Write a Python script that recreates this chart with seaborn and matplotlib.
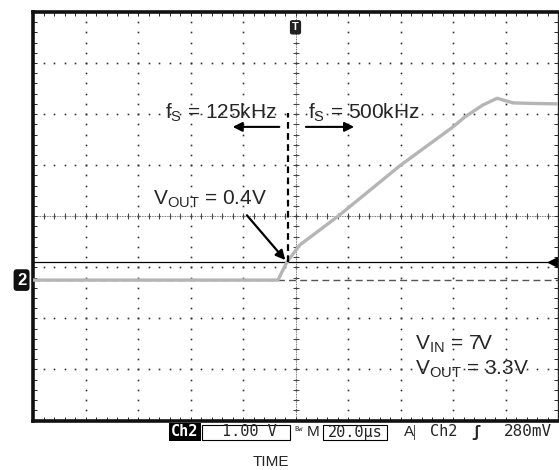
import numpy as np
import pandas as pd
import matplotlib.pyplot as plt
import seaborn as sns

tempo_us = [-100, -6.7, -3.2, 1.7, 16.2, 39.8, 60.0, 64.4, 71.4, 76.8, 82.9, 89.3, 100]
vout_v = [0.0, 0.0, 0.36, 0.69, 1.25, 2.24, 3.0, 3.19, 3.43, 3.56, 3.47, 3.46, 3.45]

nivel_trigger = 0.36      # linha do trigger (V)
t_troca = -2.9            # instante da troca de frequência (us)

df = pd.DataFrame({'Tempo': tempo_us, 'Vout': vout_v})

sns.set_style('white')
plt.rcParams['font.family'] = ['Liberation Sans', 'DejaVu Sans']
plt.rcParams['mathtext.fontset'] = 'custom'
plt.rcParams['mathtext.rm'] = 'Liberation Sans'
plt.rcParams['mathtext.it'] = 'Liberation Sans'

W, H = 559, 470
fig = plt.figure(figsize=(W / 100, H / 100), dpi=100)
fx = lambda px: px / W
fy = lambda py: 1 - py / H

# área da tela: 10 divisões x 8 divisões
ax = fig.add_axes([fx(33), fy(420.5), fx(558) - fx(33), fy(12) - fy(420.5)])
x0, x1 = -100, 100
y0, y1 = -2.75, 5.25
ax.set_xlim(x0, x1)
ax.set_ylim(y0, y1)

# retícula pontilhada
xs_maj = np.arange(x0, x1 + 1, 20)
ys_maj = np.arange(y0, y1 + 0.01, 1.0)
xs_min = np.arange(x0, x1 + 0.1, 4)
ys_min = np.arange(y0, y1 + 0.01, 0.2)
for xm in xs_maj[1:-1]:
    ax.plot(np.full_like(ys_min, xm), ys_min, ls='none', marker='s', ms=1.2, color='#333333', mew=0)
for ym in ys_maj[1:-1]:
    ax.plot(xs_min, np.full_like(xs_min, ym), ls='none', marker='s', ms=1.2, color='#333333', mew=0)

# eixos centrais com marcas
xc, yc = 0, (y0 + y1) / 2
ax.axvline(xc, color='#444444', lw=0.6, ls=(0, (1, 1)))
ax.axhline(yc, color='#444444', lw=0.6, ls=(0, (1, 1)))
ax.plot(np.full_like(ys_min, xc), ys_min, ls='none', marker='_', ms=5, mew=0.7, color='#444444')
ax.plot(xs_min, np.full_like(xs_min, yc), ls='none', marker='|', ms=5, mew=0.7, color='#444444')

# referência de terra e nível de trigger
ax.axhline(0, color='#555555', lw=1.0, ls=(0, (5, 3)))
ax.axhline(nivel_trigger, color='black', lw=0.9)

# forma de onda
sns.lineplot(data=df, x='Tempo', y='Vout', color='#b5b5b5', lw=2.4, ax=ax, zorder=3)

# linha tracejada da troca de frequência
ax.plot([t_troca, t_troca], [nivel_trigger, 3.27], color='black', lw=1.6, ls=(0, (3, 2)), zorder=4)

# setas
ax.annotate('', xy=(-25, 3.0), xytext=(-5.1, 3.0),
            arrowprops=dict(arrowstyle='-|>', color='black', lw=1.5, mutation_scale=14))
ax.annotate('', xy=(23.4, 3.0), xytext=(2.9, 3.0),
            arrowprops=dict(arrowstyle='-|>', color='black', lw=1.5, mutation_scale=14))
ax.annotate('', xy=(-3.2, 0.35), xytext=(-19.2, 1.31),
            arrowprops=dict(arrowstyle='-|>', color='black', lw=1.6, mutation_scale=14))

fs = 15
ax.text(-7.0, 3.17, r'f$_\mathrm{S}$ = 125kHz', ha='right', va='baseline', fontsize=fs)
ax.text(4.8, 3.17, r'f$_\mathrm{S}$ = 500kHz', ha='left', va='baseline', fontsize=fs)
ax.text(-54.3, 1.47, r'V$_\mathrm{OUT}$ = 0.4V', ha='left', va='baseline', fontsize=fs)
ax.text(45.5, -1.37, r'V$_\mathrm{IN}$ = 7V', ha='left', va='baseline', fontsize=fs)
ax.text(45.5, -1.86, r'V$_\mathrm{OUT}$ = 3.3V', ha='left', va='baseline', fontsize=fs)

# moldura
ax.set_xticks(xs_min[1:-1], labels=[])
ax.set_yticks(ys_min[1:-1], labels=[])
ax.tick_params(direction='in', length=3, width=0.7, top=True, right=True, left=True, bottom=True)
for lado in ['left', 'top', 'bottom']:
    ax.spines[lado].set_linewidth(2.6)
    ax.spines[lado].set_color('#111111')
ax.spines['right'].set_linewidth(1.0)
ax.set_xlabel('')
ax.set_ylabel('')

# marcadores do osciloscópio
ax.text(x0 - 2.6, 0, '2', ha='right', va='center', fontsize=12, fontweight='bold', color='white',
        bbox=dict(boxstyle='round,pad=0.2', fc='#111111', ec='none'), clip_on=False)
ax.text(0, 4.95, 'T', ha='center', va='center', fontsize=8, fontweight='bold', color='white',
        bbox=dict(boxstyle='round,pad=0.2', fc='#222222', ec='none'), zorder=5)
ax.plot([x1 - 2], [nivel_trigger], marker='<', ms=7, color='black', clip_on=False)

# barra de estado
mono = 'DejaVu Sans Mono'
yb = fy(432)
fig.text(fx(185), yb, 'Ch2', ha='center', va='center', family=mono, fontsize=11, fontweight='bold',
         color='white', bbox=dict(boxstyle='square,pad=0.12', fc='black', ec='none'))
fig.patches.append(plt.Rectangle((fx(202), fy(440)), fx(290) - fx(202), fy(425) - fy(440),
                                 transform=fig.transFigure, fill=False, ec='black', lw=0.8))
fig.text(fx(249), yb, '1.00 V', ha='center', va='center', family=mono, fontsize=11)
fig.text(fx(294), fy(429), 'Bw', ha='left', va='center', family=mono, fontsize=5)
fig.text(fx(313), yb, 'M', ha='center', va='center', fontsize=11)
fig.patches.append(plt.Rectangle((fx(323), fy(440)), fx(387) - fx(323), fy(425) - fy(440),
                                 transform=fig.transFigure, fill=False, ec='black', lw=0.8))
fig.text(fx(355), yb, '20.0µs', ha='center', va='center', family=mono, fontsize=11)
fig.text(fx(409), yb, 'A', ha='center', va='center', fontsize=11)
fig.patches.append(plt.Rectangle((fx(414), fy(440)), fx(415) - fx(414), fy(425) - fy(440),
                                 transform=fig.transFigure, fc='#555555', ec='none'))
fig.text(fx(444), yb, 'Ch2', ha='center', va='center', family=mono, fontsize=11)
fig.text(fx(476), yb, 'ʃ', ha='center', va='center', family=mono, fontsize=11, fontweight='bold')
fig.text(fx(504), yb, '280mV', ha='left', va='center', family=mono, fontsize=11.5)

fig.text(fx(271), fy(462), 'TIME', ha='center', va='center', fontsize=11)

fig.savefig('out.png', dpi=100)
